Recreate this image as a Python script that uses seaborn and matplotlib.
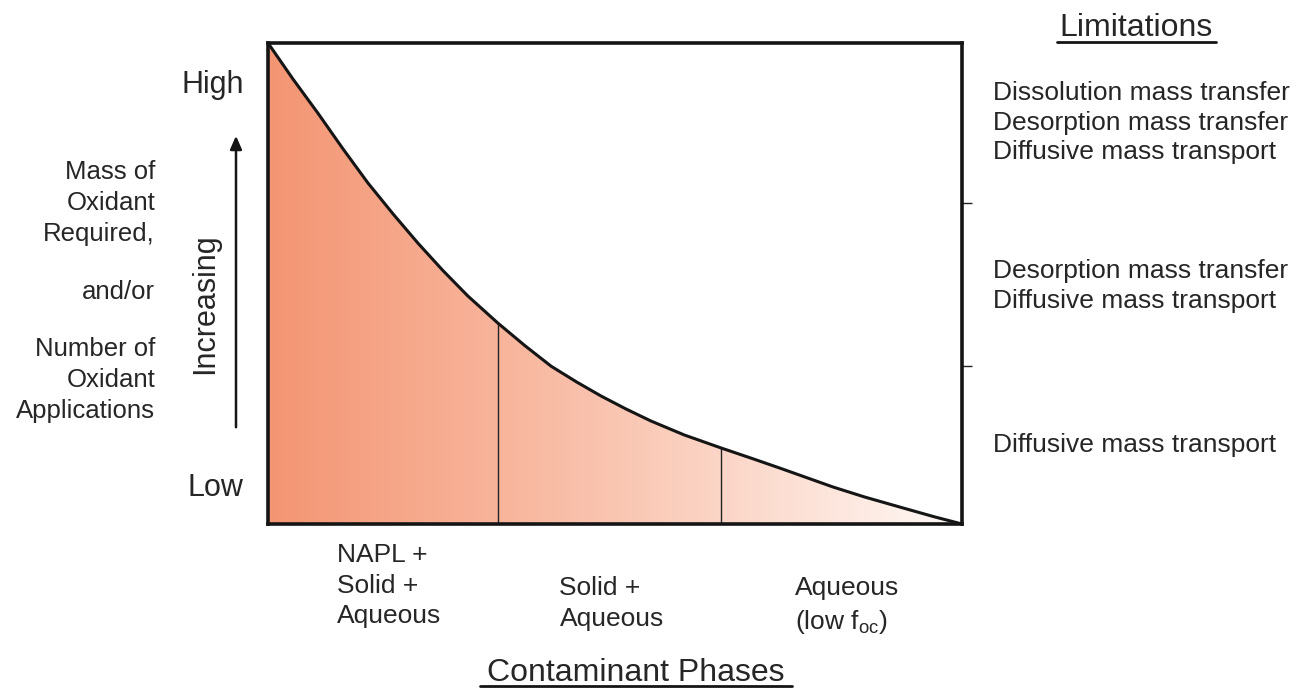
import numpy as np
import matplotlib
matplotlib.use("Agg")
import matplotlib.pyplot as plt
import seaborn as sns
from matplotlib.colors import LinearSegmentedColormap
from matplotlib.lines import Line2D

# curve (x: phase axis 0..1, y: oxidant demand 0..1)
curve_x = [0.0, 0.036, 0.072, 0.108, 0.144, 0.18, 0.216, 0.252, 0.288, 0.331, 0.37, 0.408,
           0.445, 0.48, 0.516, 0.552, 0.60, 0.653, 0.70, 0.738, 0.775, 0.814, 0.86, 0.911, 0.96, 1.0]
curve_y = [1.0, 0.925, 0.854, 0.78, 0.709, 0.645, 0.584, 0.527, 0.474, 0.418, 0.371, 0.328,
           0.295, 0.266, 0.239, 0.214, 0.185, 0.158, 0.135, 0.116, 0.097, 0.077, 0.056, 0.035, 0.015, 0.0]
boundaries = [0.331, 0.653]
boundary_heights = [0.418, 0.158]
right_ticks = [0.328, 0.667]

phase_labels = ["NAPL +\nSolid +\nAqueous", "Solid +\nAqueous", "Aqueous\n(low f$_{\\mathrm{oc}}$)"]
phase_label_x = [0.10, 0.42, 0.76]
phase_label_top = [-0.039, -0.108, -0.108]

limitation_groups = [
    ["Dissolution mass transfer", "Desorption mass transfer", "Diffusive mass transport"],
    ["Desorption mass transfer", "Diffusive mass transport"],
    ["Diffusive mass transport"],
]
limitation_y = [0.921, 0.55, 0.19]

sns.set_theme(style="white")
plt.rcParams["font.family"] = ["Liberation Sans", "DejaVu Sans"]
plt.rcParams["mathtext.fontset"] = "custom"
plt.rcParams["mathtext.rm"] = "Liberation Sans"
plt.rcParams["mathtext.it"] = "Liberation Sans:italic"
txt = "#262626"

fig = plt.figure(figsize=(13.04, 6.88), dpi=100)
ax = fig.add_axes([268 / 1304, 1 - 524 / 688, 694 / 1304, 481 / 688])

# gradient fill under the curve
cmap = LinearSegmentedColormap.from_list(
    "salmon", [(0, "#F39573"), (0.33, "#F8B49B"), (0.65, "#FBD5C6"), (1, "#FFF9F6")]
)
poly = ax.fill_between(curve_x, curve_y, 0, color="none", lw=0)
grad = np.linspace(0, 1, 256).reshape(1, -1)
im = ax.imshow(grad, extent=[0, 1, 0, 1], aspect="auto", cmap=cmap, origin="lower", zorder=1)
im.set_clip_path(poly.get_paths()[0], transform=ax.transData)

sns.lineplot(x=curve_x, y=curve_y, ax=ax, color="#151515", lw=2.2, zorder=3)
for bx, bh in zip(boundaries, boundary_heights):
    ax.plot([bx, bx], [0, bh], color="#222222", lw=1.0, zorder=2)

ax.set_xlim(0, 1)
ax.set_ylim(0, 1)
ax.set_xticks([])
ax.set_yticks(right_ticks)
ax.tick_params(axis="y", left=False, right=True, labelleft=False, labelright=False,
               direction="out", length=7, width=1.0, color="#222222")
for s in ax.spines.values():
    s.set_visible(True)
    s.set_linewidth(2.6)
    s.set_color("#151515")

# left side annotations
ax.text(-0.035, 0.913, "High", transform=ax.transAxes, ha="right", va="center", fontsize=22, color=txt)
ax.text(-0.035, 0.075, "Low", transform=ax.transAxes, ha="right", va="center", fontsize=22, color=txt)
fig.text(205 / 1304, 1 - 304 / 688, "Increasing", rotation=90, ha="center", va="center", fontsize=22, color=txt)
fig.add_artist(matplotlib.patches.FancyArrowPatch(
    (236 / 1304, 1 - 430 / 688), (236 / 1304, 1 - 133 / 688), transform=fig.transFigure,
    arrowstyle="-|>,head_length=8,head_width=3.5", color="#151515", lw=1.8, mutation_scale=1))
fig.text(155 / 1304, 1 - 203 / 688, "Mass of\nOxidant\nRequired,", ha="right", va="center",
         fontsize=18.5, color=txt, linespacing=1.39)
fig.text(155 / 1304, 1 - 292 / 688, "and/or", ha="right", va="center", fontsize=18.5, color=txt)
fig.text(155 / 1304, 1 - 380 / 688, "Number of\nOxidant\nApplications", ha="right", va="center",
         fontsize=18.5, color=txt, linespacing=1.39)

# bottom phase labels
for lab, lx, ly in zip(phase_labels, phase_label_x, phase_label_top):
    ax.text(lx, ly, lab, transform=ax.transAxes, ha="left", va="top", fontsize=19,
            color=txt, linespacing=1.36)

fig.text(636 / 1304, 1 - 673 / 688, "Contaminant Phases", ha="center", va="center", fontsize=23, color=txt)
fig.add_artist(Line2D([480 / 1304, 792 / 1304], [1 - 686 / 688] * 2, color="#151515", lw=2))

# right side limitations
fig.text(1136 / 1304, 1 - 28 / 688, "Limitations", ha="center", va="center", fontsize=23, color=txt)
fig.add_artist(Line2D([1057 / 1304, 1216 / 1304], [1 - 42 / 688] * 2, color="#151515", lw=2))
for group, gy in zip(limitation_groups, limitation_y):
    ax.text(1.045, gy, "\n".join(group), transform=ax.transAxes, ha="left", va="top",
            fontsize=19, color=txt, linespacing=1.29)

fig.savefig("out.png", dpi=100, facecolor="white")
